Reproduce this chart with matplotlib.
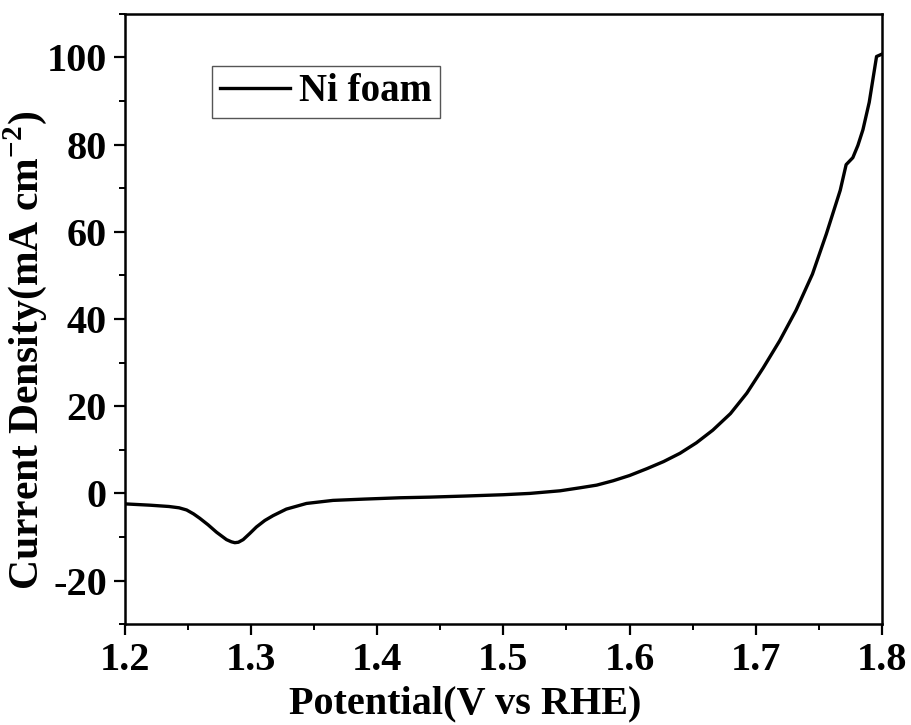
import numpy as np
import matplotlib
matplotlib.use("Agg")
import matplotlib.pyplot as plt
from matplotlib.ticker import MultipleLocator

# LSV curve of Ni foam
potential = [1.200, 1.220, 1.235, 1.243, 1.249, 1.2545, 1.2594, 1.266, 1.2727, 1.2806,
             1.2845, 1.2872, 1.2900, 1.2938, 1.2990, 1.3043, 1.3110, 1.3175, 1.328, 1.344,
             1.365, 1.390, 1.418, 1.442, 1.470,
             1.500, 1.521, 1.545, 1.561, 1.574, 1.587, 1.600, 1.614, 1.627, 1.640,
             1.653, 1.666, 1.680, 1.693, 1.706, 1.719, 1.732, 1.745, 1.756, 1.767,
             1.7717, 1.777, 1.781, 1.785, 1.790, 1.7958, 1.7997]
current = [-2.4, -2.7, -3.0, -3.3, -3.8, -4.7, -5.7, -7.2, -8.9, -10.6,
           -11.1, -11.3, -11.2, -10.6, -9.2, -7.7, -6.2, -5.1, -3.6, -2.3,
           -1.6, -1.3, -1.0, -0.85, -0.6,
           -0.3, 0.0, 0.6, 1.3, 1.9, 2.9, 4.1, 5.7, 7.3, 9.2,
           11.6, 14.5, 18.3, 23.0, 28.8, 35.0, 42.0, 50.3, 59.5, 69.5,
           75.4, 77.0, 79.8, 83.4, 89.7, 100.2, 100.7]
series_label = "Ni foam"

plt.rcParams['font.family'] = ['Liberation Serif', 'DejaVu Serif']
plt.rcParams['font.weight'] = 'bold'
plt.rcParams['axes.unicode_minus'] = False
plt.rcParams['mathtext.fontset'] = 'custom'
plt.rcParams['mathtext.rm'] = 'Liberation Serif:bold'
plt.rcParams['mathtext.bf'] = 'Liberation Serif:bold'

fig = plt.figure(figsize=(9.11, 7.25), dpi=100)
ax = fig.add_axes([0.137, 0.139, 0.831, 0.842])

ax.plot(potential, current, color='black', lw=2.4, label=series_label)

ax.set_xlim(1.2, 1.8)
ax.set_ylim(-30, 110)
ax.xaxis.set_major_locator(MultipleLocator(0.1))
ax.xaxis.set_minor_locator(MultipleLocator(0.05))
ax.yaxis.set_minor_locator(MultipleLocator(10))
ax.set_yticks([-20, 0, 20, 40, 60, 80, 100])

ax.tick_params(which='major', direction='out', length=8, width=1.6, labelsize=29, pad=5)
ax.tick_params(which='minor', direction='out', length=4.5, width=1.4)
for lab in ax.get_xticklabels() + ax.get_yticklabels():
    lab.set_fontweight('bold')
for s in ax.spines.values():
    s.set_linewidth(1.8)

ax.set_xlabel("Potential(V vs RHE)", fontsize=29, fontweight='bold')
ax.set_ylabel("Current Density(mA cm$^{\\mathbf{-2}}$)", fontsize=30, fontweight='bold')
ax.xaxis.set_label_coords(0.449, -0.100)
ax.yaxis.set_label_coords(-0.10, 0.449)

leg = ax.legend(loc='upper left', bbox_to_anchor=(0.115, 0.915), borderaxespad=0,
                fancybox=False, edgecolor='#555555', framealpha=1,
                prop={'size': 28, 'weight': 'bold'}, handlelength=1.8,
                handletextpad=0.25, borderpad=0.2)
leg.get_frame().set_linewidth(1.0)

fig.savefig("out.png", dpi=100)
